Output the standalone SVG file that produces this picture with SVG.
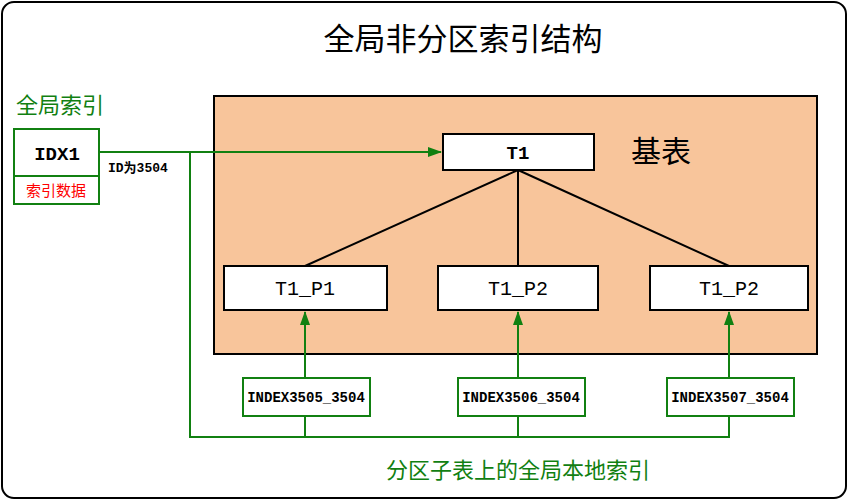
<svg xmlns="http://www.w3.org/2000/svg" width="849" height="501" viewBox="0 0 849 501">
<style>
text{font-family:"Liberation Mono","Noto Sans CJK SC",monospace;}
.b{fill:#fff;stroke:#000;stroke-width:2}
.g{fill:#fff;stroke:#118011;stroke-width:2}
.gl{fill:none;stroke:#118011;stroke-width:2}
.gt{fill:#118011}
</style>
<defs><marker id="u" markerWidth="14" markerHeight="14" refX="13" refY="5" orient="auto" markerUnits="userSpaceOnUse"><path d="M0,0L14,5L0,10z" fill="#118011"/></marker></defs>
<rect x="2" y="2" width="844" height="496" rx="12" fill="#fff" stroke="#000" stroke-width="2"/>
<text x="463" y="50" font-size="31" text-anchor="middle">全局非分区索引结构</text>
<rect x="214" y="96" width="603" height="258" fill="#f8c59b" stroke="#000" stroke-width="2"/>
<text x="631" y="162" font-size="30">基表</text>
<g id="connectors">
<path d="M518,170L305,266M518,170L518,266M518,170L729,266" stroke="#000" stroke-width="2" fill="none"/>
<path class="gl" d="M99,152H441" marker-end="url(#u)"/>
<path class="gl" d="M190,152V437H729V416M305,437V416M518,437V416"/>
<path class="gl" d="M305,378V312" marker-end="url(#u)"/>
<path class="gl" d="M518,378V312" marker-end="url(#u)"/>
<path class="gl" d="M729,378V312" marker-end="url(#u)"/>
</g>
<g id="T1"><rect class="b" x="443" y="134" width="151" height="36"/><text x="518" y="159" font-size="19" font-weight="bold" text-anchor="middle">T1</text></g>
<g id="P1"><rect class="b" x="224" y="266" width="163" height="44"/><text x="305" y="295" font-size="20" text-anchor="middle">T1_P1</text></g>
<g id="P2"><rect class="b" x="438" y="266" width="160" height="44"/><text x="518" y="295" font-size="20" text-anchor="middle">T1_P2</text></g>
<g id="P3"><rect class="b" x="650" y="266" width="158" height="44"/><text x="729" y="295" font-size="20" text-anchor="middle">T1_P2</text></g>
<g id="IDX1">
<text x="16" y="113" font-size="22" class="gt">全局索引</text>
<rect class="g" x="14" y="129" width="85" height="47"/><text x="57" y="160" font-size="19" font-weight="bold" text-anchor="middle">IDX1</text>
<rect class="g" x="14" y="176" width="85" height="28"/><text x="56" y="196" font-size="15" text-anchor="middle" fill="#f00">索引数据</text>
<text x="108" y="172" font-size="13" font-weight="bold">ID为3504</text>
</g>
<g id="I1"><rect class="g" x="243" y="378" width="127" height="38"/><text x="306" y="402" font-size="14" font-weight="bold" text-anchor="middle">INDEX3505_3504</text></g>
<g id="I2"><rect class="g" x="458" y="378" width="127" height="38"/><text x="521" y="402" font-size="14" font-weight="bold" text-anchor="middle">INDEX3506_3504</text></g>
<g id="I3"><rect class="g" x="667" y="378" width="127" height="38"/><text x="730" y="402" font-size="14" font-weight="bold" text-anchor="middle">INDEX3507_3504</text></g>
<text x="518" y="478" font-size="22" text-anchor="middle" class="gt">分区子表上的全局本地索引</text>
</svg>
